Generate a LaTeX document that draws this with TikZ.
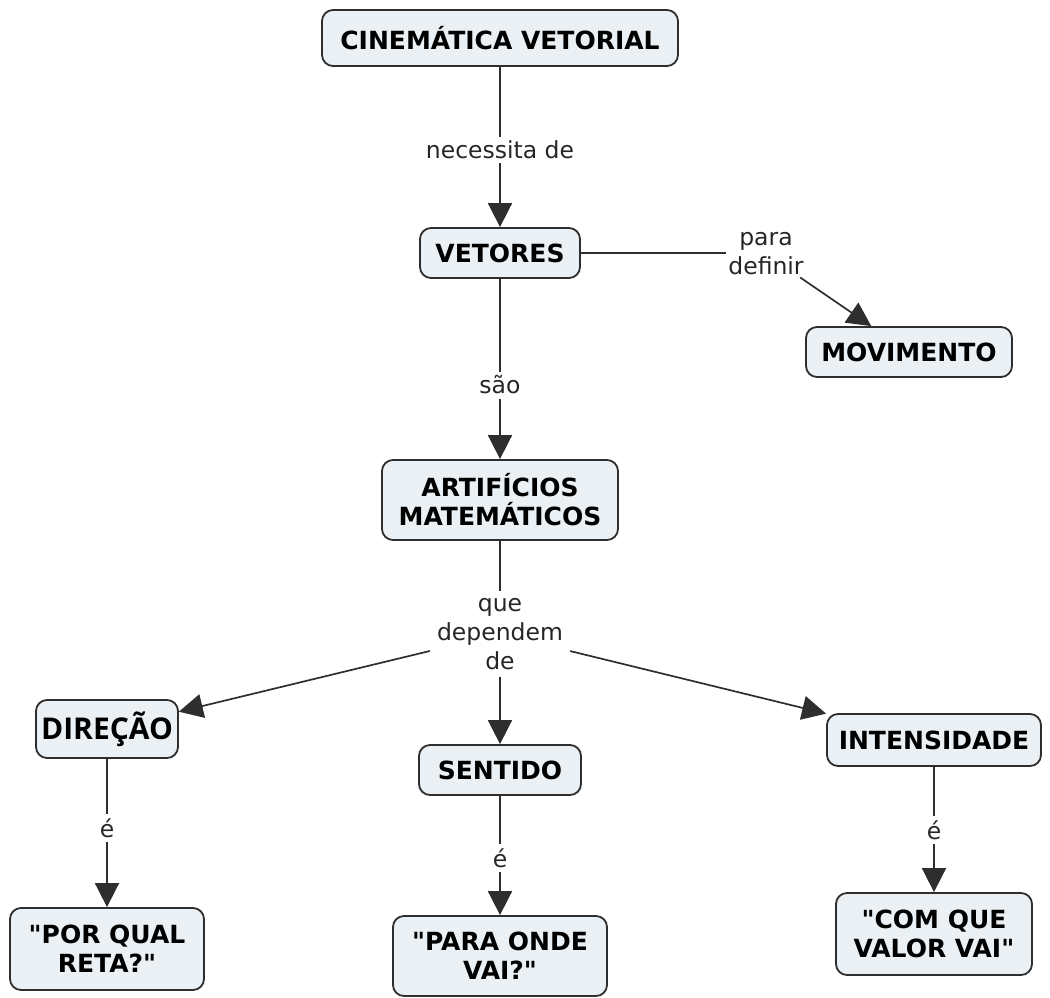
\documentclass[tikz,border=0pt]{standalone}
\usepackage{fontspec}
\setmainfont{DejaVu Sans}
\newfontfamily\dirfont{Open Sans}
\usetikzlibrary{arrows.meta}
\definecolor{boxfill}{HTML}{EAF0F4}
\definecolor{edge}{HTML}{2E2E2E}
\tikzset{
  concept/.style={draw=edge, line width=1.8pt, fill=boxfill, rounded corners=11pt,
    font=\fontsize{25}{29}\selectfont\bfseries, align=center, inner sep=0pt, text=black},
  lbl/.style={font=\fontsize{23.5}{29}\selectfont, align=center, inner sep=4pt, text=black!85},
  conn/.style={draw=edge, line width=1.7pt},
  arr/.style={conn, -{Triangle[length=24pt,width=24pt]}}
}
\begin{document}
\begin{tikzpicture}[x=1pt,y=-1pt]
\useasboundingbox (0,0) rectangle (1050,997);
% concepts
\node[concept, minimum width=356pt, minimum height=56pt] (cin) at (500,38) {CINEMÁTICA VETORIAL};
\node[concept, minimum width=160pt, minimum height=50pt] (vet) at (500,253) {VETORES};
\node[concept, minimum width=206pt, minimum height=50pt] (mov) at (909,352) {MOVIMENTO};
\node[concept, minimum width=236pt, minimum height=80pt] (art) at (500,500) {ARTIFÍCIOS\\MATEMÁTICOS};
\node[concept, minimum width=142pt, minimum height=58pt, font=\dirfont\fontsize{30}{34}\selectfont\bfseries] (dir) at (107,729) {DIREÇÃO};
\node[concept, minimum width=162pt, minimum height=50pt] (sen) at (500,770) {SENTIDO};
\node[concept, minimum width=214pt, minimum height=52pt] (int) at (934,740) {INTENSIDADE};
\node[concept, minimum width=194pt, minimum height=82pt] (por) at (107,949) {\textquotedbl POR QUAL\\RETA?\textquotedbl};
\node[concept, minimum width=214pt, minimum height=80pt] (par) at (500,956) {\textquotedbl PARA ONDE\\VAI?\textquotedbl};
\node[concept, minimum width=196pt, minimum height=82pt] (com) at (934,934) {\textquotedbl COM QUE\\VALOR VAI\textquotedbl};
% linking phrases
\node[lbl] (l1) at (500,150) {necessita de};
\node[lbl, inner sep=2pt] (l2) at (766,254) {para\\definir};
\node[lbl] (l3) at (500,385) {são};
\node[lbl, inner sep=7pt] (l4) at (500,634) {que\\dependem\\de};
\node[lbl] (l5) at (107,828) {é};
\node[lbl] (l6) at (500,858) {é};
\node[lbl] (l7) at (934,830) {é};
% connectors
\draw[conn] (cin) -- (l1);
\draw[arr] (l1) -- (vet);
\draw[conn] (vet.east) -- (vet.east -| l2.west);
\draw[arr] (l2) -- (mov);
\draw[conn] (vet) -- (l3);
\draw[arr] (l3) -- (art);
\draw[conn] (art) -- (l4);
\draw[arr] (l4) -- (dir);
\draw[arr] (l4) -- (sen);
\draw[arr] (l4) -- (int);
\draw[conn] (dir) -- (l5);
\draw[arr] (l5) -- (por);
\draw[conn] (sen) -- (l6);
\draw[arr] (l6) -- (par);
\draw[conn] (int) -- (l7);
\draw[arr] (l7) -- (com);
\end{tikzpicture}
\end{document}
